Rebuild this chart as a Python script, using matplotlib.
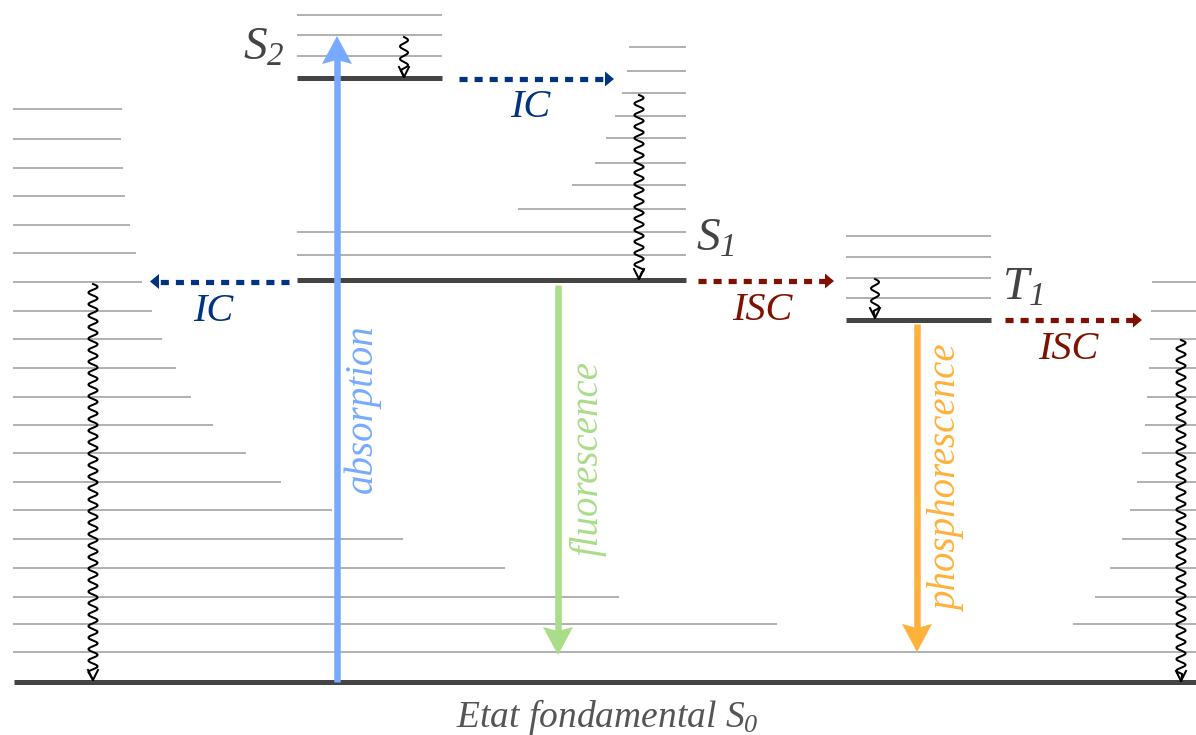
import matplotlib
matplotlib.use("Agg")
import matplotlib.pyplot as plt
from matplotlib.patches import Polygon
from matplotlib import font_manager
import numpy as np

_names = {f.name for f in font_manager.fontManager.ttflist}
SERIF = next((n for n in ["Liberation Serif", "FreeSerif", "Libertinus Serif",
                          "DejaVu Serif"] if n in _names), "serif")

plt.rcParams['mathtext.fontset'] = 'custom'
plt.rcParams['mathtext.it'] = SERIF + ':italic'
plt.rcParams['mathtext.rm'] = SERIF + ':italic'

# ---------------- data (pixel units of the diagram) ----------------
# main electronic levels: name, y, x-start, x-end
level_names = ["S0", "S1", "S2", "T1"]
level_y = [682, 280, 78, 320]
level_x0 = [14, 297, 297, 846]
level_x1 = [1196, 686, 442, 991]

# S0 vibrational rungs (left ladder end, right ladder start)
s0_rung_y = [109.3, 138.7, 167.7, 196.3, 225.0, 253.3, 282.0, 310.7, 339.0,
             367.7, 396.7, 425.0, 453.3, 482.0, 510.3, 539.3, 568.0, 596.7,
             624.3, 651.7]
s0_left_end = [122, 121, 123, 125, 130, 136, 142, 152, 162, 176, 191, 213,
               246, 281, 332, 403, 505, 619, 777, 1196]
s0_right_y = [282.0, 310.7, 339.0, 367.7, 396.7, 425.0, 453.3, 482.0, 510.3,
              539.3, 568.0, 596.7, 624.3]
s0_right_start = [1152, 1151, 1150, 1149, 1147, 1145, 1142, 1137, 1130, 1122,
                  1110, 1095, 1073]

# S1 vibrational rungs (start x, all end at 686)
s1_rung_y = [47.0, 70.7, 93.0, 115.7, 138.3, 162.7, 185.3, 208.7, 232.3, 254.7]
s1_rung_x0 = [629, 627, 622, 615, 606, 595, 572, 518, 297, 297]
s1_rung_x1 = 686

# S2 vibrational rungs
s2_rung_y = [14.7, 35.0, 55.7]
# T1 vibrational rungs
t1_rung_y = [235.6, 256.8, 278.0, 298.2]

# radiative transitions: label, x, y_from, y_to, colour
rad_labels = ["absorption", "fluorescence", "phosphorescence"]
rad_x = [337, 558, 917]
rad_from = [682, 285, 324]
rad_to = [36, 655, 652]
rad_colors = ["#77aaff", "#aadd88", "#ffb13b"]
rad_label_xy = [(362, 409), (588, 458), (948, 479)]

# non-radiative (wavy) relaxations: x, y_from, y_to
wavy_x = [404, 639, 93, 875, 1181]
wavy_from = [37, 95, 284, 279, 340]
wavy_to = [77, 279, 680, 318, 681]

# dashed transfers: label, y, x_from, x_to, colour, label position
dash_labels = ["IC", "IC", "ISC", "ISC"]
dash_y = [79, 281.5, 281, 320]
dash_from = [459, 289, 698, 1005]
dash_to = [614, 150, 834, 1142]
dash_colors = ["#003380", "#003380", "#7f1100", "#7f1100"]
dash_label_xy = [(530, 107), (213, 311), (762, 310), (1068, 349)]

# level labels
lvl_label_text = [r"$S_2$", r"$S_1$", r"$T_1$"]
lvl_label_xy = [(264, 47), (715, 238), (1023, 287)]
ground_label = r"Etat fondamental $S_0$"
ground_label_xy = (607, 717)

# ---------------- drawing ----------------
W, H = 1196, 735
fig = plt.figure(figsize=(W / 100, H / 100), dpi=100)
ax = fig.add_axes([0, 0, 1, 1])
ax.set_xlim(0, W)
ax.set_ylim(H, 0)
ax.axis("off")

px = 0.72  # points per pixel
grey = "#aaaaaa"
dark = "#444444"
thin = 1.8 * px

# thin rungs
for y, x1 in zip(s0_rung_y, s0_left_end):
    ax.plot([13, x1], [y, y], color=grey, lw=thin, solid_capstyle="butt", zorder=1)
for y, x0 in zip(s0_right_y, s0_right_start):
    ax.plot([x0, W], [y, y], color=grey, lw=thin, solid_capstyle="butt", zorder=1)
for y, x0 in zip(s1_rung_y, s1_rung_x0):
    ax.plot([x0, s1_rung_x1], [y, y], color=grey, lw=thin, solid_capstyle="butt", zorder=1)
for y in s2_rung_y:
    ax.plot([297, 442], [y, y], color=grey, lw=thin, solid_capstyle="butt", zorder=1)
for y in t1_rung_y:
    ax.plot([846, 991], [y, y], color=grey, lw=thin, solid_capstyle="butt", zorder=1)

# thick electronic levels
for y, x0, x1 in zip(level_y, level_x0, level_x1):
    ax.plot([x0, x1], [y, y], color=dark, lw=5 * px, solid_capstyle="butt", zorder=3)

# radiative arrows
def stealth_head(x, tip, direction, color, length=28, half=15, notch=4):
    base = tip - direction * length
    pts = [(x, tip), (x + half, base), (x, base + direction * notch), (x - half, base)]
    ax.add_patch(Polygon(pts, closed=True, facecolor=color, edgecolor="none", zorder=5))
    return base + direction * notch

for x, y0, y1, c in zip(rad_x, rad_from, rad_to, rad_colors):
    d = 1 if y1 > y0 else -1
    yb = stealth_head(x, y1, d, c)
    ax.plot([x, x], [y0, yb + d * 2], color=c, lw=6.5 * px, solid_capstyle="butt", zorder=4)

for (tx, ty), t, c in zip(rad_label_xy, rad_labels, rad_colors):
    ax.text(tx, ty, t, rotation=90, ha="center", va="center", color=c,
            fontsize=28, family=SERIF, style="italic", zorder=6)

# wavy arrows
def wavy(x, y0, y1, amp=4.6, period=11.5):
    yy = np.linspace(y0, y1 - 7, 500)
    xx = x + amp * np.sin(2 * np.pi * (yy - y0) / period)
    xx = np.append(xx, x)
    yy = np.append(yy, y1)
    ax.plot(xx, yy, color="black", lw=2.0 * px, zorder=6)
    ax.plot([x - 5, x, x + 5], [y1 - 10, y1, y1 - 10], color="black", lw=2.0 * px,
            zorder=6, solid_joinstyle="miter")

for x, y0, y1 in zip(wavy_x, wavy_from, wavy_to):
    if y1 - y0 < 60:
        wavy(x, y0, y1, amp=4.0, period=12.5)
    else:
        wavy(x, y0, y1)

# dashed arrows
for y, x0, x1, c in zip(dash_y, dash_from, dash_to, dash_colors):
    d = 1 if x1 > x0 else -1
    hl = 9
    ax.plot([x0, x1 - d * hl], [y, y], color=c, lw=5.2 * px, linestyle=(0, (1.55, 1.35)),
            dash_capstyle="butt", zorder=4)
    ax.add_patch(Polygon([(x1, y), (x1 - d * hl, y - 7.5), (x1 - d * hl, y + 7.5)],
                         closed=True, facecolor=c, edgecolor="none", zorder=4))

for (tx, ty), t, c in zip(dash_label_xy, dash_labels, dash_colors):
    ax.text(tx, ty, t, ha="center", va="center", color=c, fontsize=29,
            family=SERIF, style="italic", zorder=6)

# level labels
for (tx, ty), t in zip(lvl_label_xy, lvl_label_text):
    ax.text(tx, ty, t, ha="center", va="center", color="#444444", fontsize=34, zorder=6)

ax.text(ground_label_xy[0], ground_label_xy[1], ground_label, ha="center", va="center",
        color="#555555", fontsize=27, family=SERIF, style="italic", zorder=6)

fig.savefig("out.png", dpi=100)
